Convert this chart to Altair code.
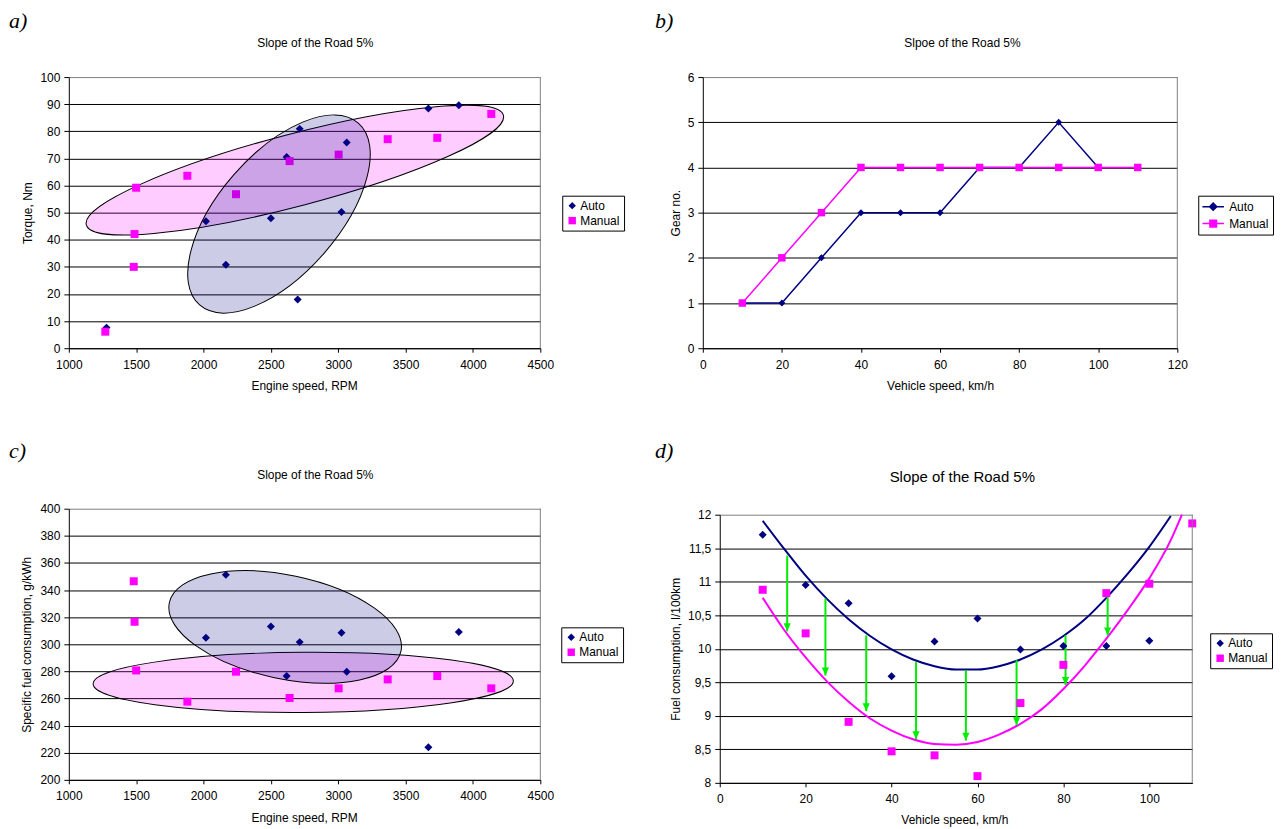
import altair as alt
import pandas as pd

# ------------------------------------------------------------------ data
series = ["Auto", "Manual"]

# a) torque vs engine speed
a_auto_rpm = [1280, 2018, 2166, 2500, 2617, 2699, 2714, 3024, 3063, 3669, 3895]
a_auto_torque = [7.6, 46.8, 30.8, 47.9, 70.5, 18.0, 80.9, 50.2, 75.9, 88.4, 89.6]
a_man_rpm = [1271, 1482, 1488, 1500, 1880, 2241, 2639, 3003, 3367, 3735, 4136]
a_man_torque = [6.1, 30.0, 42.1, 59.2, 63.6, 56.8, 69.0, 71.4, 77.1, 77.6, 86.4]
a_cluster_rpm = [2678, 2560]          # Manual cluster, Auto cluster (ellipse centres)
a_cluster_torque = [65.7, 49.5]

# b) gear number vs vehicle speed
b_auto_speed = [10, 20, 30, 40, 50, 60, 70, 80, 90, 100]
b_auto_gear = [1, 1, 2, 3, 3, 3, 4, 4, 5, 4]
b_man_speed = [10, 20, 30, 40, 50, 60, 70, 80, 90, 100, 110]
b_man_gear = [1, 2, 3, 4, 4, 4, 4, 4, 4, 4, 4]

# c) specific fuel consumption vs engine speed
c_auto_rpm = [2018, 2166, 2500, 2617, 2714, 3024, 3063, 3669, 3895]
c_auto_sfc = [304.8, 351.2, 313.1, 276.6, 301.6, 308.5, 279.8, 224.0, 309.0]
c_man_rpm = [1482, 1488, 1500, 1880, 2241, 2639, 3003, 3367, 3735, 4136]
c_man_sfc = [346.5, 316.6, 280.7, 257.7, 279.8, 260.4, 267.5, 274.1, 276.6, 267.5]
c_cluster_rpm = [2740, 2606]
c_cluster_sfc = [271.9, 312.8]

# d) fuel consumption vs vehicle speed
d_auto_speed = [10, 20, 30, 40, 50, 60, 70, 80, 90, 100]
d_auto_fc = [11.70, 10.95, 10.68, 9.59, 10.11, 10.45, 9.99, 10.04, 10.04, 10.12]
d_man_speed = [10, 20, 30, 40, 50, 60, 70, 80, 90, 100, 110]
d_man_fc = [10.88, 10.23, 8.91, 8.47, 8.41, 8.10, 9.19, 9.76, 10.83, 10.97, 11.87]
d_auto_trend_speed = [10, 15, 20, 25, 30, 35, 40, 45, 50, 55, 60, 65, 70, 75, 80, 85, 90, 95, 100, 105]
d_auto_trend_fc = [11.91, 11.49, 11.09, 10.74, 10.44, 10.19, 9.99, 9.84, 9.74, 9.69, 9.69, 9.74,
                   9.84, 9.99, 10.19, 10.44, 10.76, 11.12, 11.52, 11.98]
d_man_trend_speed = [10, 15, 20, 25, 30, 35, 40, 45, 50, 55, 60, 65, 70, 75, 80, 85, 90, 95, 100, 105, 107.6]
d_man_trend_fc = [10.76, 10.28, 9.87, 9.51, 9.21, 8.96, 8.78, 8.65, 8.58, 8.57, 8.61, 8.72,
                  8.88, 9.10, 9.40, 9.75, 10.15, 10.58, 11.05, 11.62, 12.0]
d_arrow_speed = [15.7, 24.6, 34.1, 45.7, 57.3, 69.1, 80.5, 90.3]
d_arrow_from = [11.39, 10.75, 10.20, 9.80, 9.68, 9.83, 10.20, 10.79]
d_arrow_to = [10.26, 9.60, 9.07, 8.65, 8.63, 8.86, 9.46, 10.20]

# tick values
a_x_ticks = [1000, 1500, 2000, 2500, 3000, 3500, 4000, 4500]
a_y_ticks = [0, 10, 20, 30, 40, 50, 60, 70, 80, 90, 100]
b_x_ticks = [0, 20, 40, 60, 80, 100, 120]
b_y_ticks = [0, 1, 2, 3, 4, 5, 6]
c_y_ticks = [200, 220, 240, 260, 280, 300, 320, 340, 360, 380, 400]
d_x_ticks = [0, 20, 40, 60, 80, 100]
d_y_ticks = [8, 8.5, 9, 9.5, 10, 10.5, 11, 11.5, 12]

# ------------------------------------------------------------------ style
FONT = "Liberation Sans"
SERIF = "Liberation Serif"
NAVY, MAG, GREEN, BORDER = "#000080", "#FF00FF", "#00EE00", "#808080"

color_scale = alt.Scale(domain=series, range=[NAVY, MAG])
shape_scale = alt.Scale(domain=series, range=["diamond", "square"])
AUTO_LEG = "M-1.8,0L1.8,0M0,-0.6L0.6,0L0,0.6L-0.6,0Z"
MAN_LEG = "M-1.8,0L1.8,0M-0.55,-0.55L0.55,-0.55L0.55,0.55L-0.55,0.55Z"
HEAD = "M0,0L-0.45,-1L0.45,-1Z"


def df_xy(xs, ys, name=None):
    d = pd.DataFrame({"x": xs, "y": ys})
    if name:
        d["series"] = name
    return d


def mk_legend(lx, ly, **extra):
    kw = dict(title=None, orient="none", legendX=lx, legendY=ly, strokeColor="black",
              fillColor="white", padding=4, labelFont=FONT, labelFontSize=12,
              labelColor="black", symbolSize=55, rowPadding=3, labelOffset=2,
              symbolStrokeWidth=0, symbolOpacity=1)
    kw.update(extra)
    return alt.Legend(**kw)


def x_axis(values, title, tx, ty, **extra):
    kw = dict(values=values, tickCount=30, format="d", title=title, grid=False,
              domainColor="black", tickColor="black", tickSize=4, labelFont=FONT,
              labelFontSize=12, labelColor="black", labelPadding=7, labelFlush=False,
              labelOverlap=False, titleFont=FONT, titleFontSize=12,
              titleFontWeight="normal", titleColor="black", titleX=tx, titleY=ty,
              titleAlign="center", titleBaseline="alphabetic")
    kw.update(extra)
    return alt.Axis(**kw)


def y_axis(values, title, tx, ty, top, **extra):
    kw = dict(values=values, tickCount=30, title=title, grid=True,
              gridColor={"condition": {"test": f"datum.value === {top}", "value": BORDER},
                         "value": "black"},
              gridWidth=1, gridOpacity=1, domainColor="black", tickColor="black",
              tickSize=5, labelFont=FONT, labelFontSize=12, labelColor="black",
              labelPadding=4, labelFlush=False, labelOverlap=False,
              titleFont=FONT, titleFontSize=12, titleFontWeight="normal",
              titleColor="black", titleAngle=270, titleX=tx, titleY=ty,
              titleAlign="center", titleBaseline="alphabetic")
    kw.update(extra)
    return alt.Axis(**kw)


def text(s, x, y, size=12, font=FONT, style="normal", align="center"):
    return alt.Chart(pd.DataFrame({"t": [s]})).mark_text(
        align=align, baseline="alphabetic", font=font, fontSize=size,
        fontStyle=style, color="black").encode(
        text="t:N", x=alt.value(x), y=alt.value(y))


def ellipse(cx, cy, xs, ys, ratio, size, angle, fill):
    path = f"M-1,0A1,{ratio} 0 1,0 1,0A1,{ratio} 0 1,0 -1,0Z"
    return alt.Chart(df_xy([cx], [cy])).mark_point(
        shape=path, size=size, angle=angle, filled=True, fill=fill, fillOpacity=0.2,
        stroke="black", strokeWidth=1, opacity=1).encode(
        x=alt.X("x:Q", scale=xs), y=alt.Y("y:Q", scale=ys))


def right_border(xdom, ydom, xs, ys):
    d = pd.DataFrame({"x": [xdom[1]], "y": [ydom[0]], "y2": [ydom[1]]})
    return alt.Chart(d).mark_rule(color=BORDER, strokeWidth=1).encode(
        x=alt.X("x:Q", scale=xs), y=alt.Y("y:Q", scale=ys), y2="y2:Q")


def scatter_panel(auto_x, auto_y, man_x, man_y, cl_x, cl_y, ydom, yticks, ytitle,
                  ytx, title_y, label, label_y, leg, ell, xty):
    xdom = [1000, 4500]
    xs = alt.Scale(domain=xdom, nice=False, zero=False)
    ys = alt.Scale(domain=ydom, nice=False, zero=False)
    pts = pd.concat([df_xy(auto_x, auto_y, "Auto"), df_xy(man_x, man_y, "Manual")])
    points = alt.Chart(pts).mark_point(filled=True, opacity=1, size=64).encode(
        x=alt.X("x:Q", scale=xs, axis=x_axis(a_x_ticks, "Engine speed, RPM", 236, xty)),
        y=alt.Y("y:Q", scale=ys,
                axis=y_axis(yticks, ytitle, ytx, 136, ydom[1], format="d")),
        color=alt.Color("series:N", scale=color_scale, legend=leg),
        shape=alt.Shape("series:N", scale=shape_scale, legend=leg),
    )
    (pr, psize, pang), (br, bsize, bang) = ell
    pink = ellipse(cl_x[0], cl_y[0], xs, ys, pr, psize, pang, MAG)
    blue = ellipse(cl_x[1], cl_y[1], xs, ys, br, bsize, bang, NAVY)
    return alt.layer(
        pink, points, blue, right_border(xdom, ydom, xs, ys),
        text("Slope of the Road 5%", 247.3, title_y),
        text(label, -60, label_y, size=22, font=SERIF, style="italic", align="left"),
    ).properties(width=473, height=272)


# ------------------------------------------------------------------ a)
panel_a = scatter_panel(
    a_auto_rpm, a_auto_torque, a_man_rpm, a_man_torque, a_cluster_rpm, a_cluster_torque,
    [0, 100], a_y_ticks, "Torque, Nm", -37.3, -30, "a)", -49,
    mk_legend(495, 119),
    ((0.1674, 187143, 345.3), (0.4955, 58661, 311.1)), 41.5)

# ------------------------------------------------------------------ c)
panel_c = scatter_panel(
    c_auto_rpm, c_auto_sfc, c_man_rpm, c_man_sfc, c_cluster_rpm, c_cluster_sfc,
    [200, 400], c_y_ticks, "Specific fuel consumption, g/kWh", -38.3, -29.7, "c)", -51.3,
    mk_legend(494, 119),
    ((0.1433, 177747, 359.6), (0.438, 56359, 11.8)), 42)

# ------------------------------------------------------------------ b)
bx_dom, by_dom = [0, 120], [0, 6]
bxs = alt.Scale(domain=bx_dom, nice=False, zero=False)
bys = alt.Scale(domain=by_dom, nice=False, zero=False)
b_auto = df_xy(b_auto_speed, b_auto_gear)
b_man = df_xy(b_man_speed, b_man_gear)
b_leg = mk_legend(497, 119, symbolSize=144, symbolStrokeWidth=1.5, symbolOffset=4,
                  labelOffset=9)
b_auto_line = alt.Chart(b_auto).mark_line(color=NAVY, strokeWidth=1.5).encode(
    x=alt.X("x:Q", scale=bxs, axis=x_axis(b_x_ticks, "Vehicle speed, km/h", 238, 41.3)),
    y=alt.Y("y:Q", scale=bys,
            axis=y_axis(b_y_ticks, "Gear no.", -23.6, 136, 6, format="d")))
b_auto_pts = alt.Chart(b_auto).mark_point(shape="diamond", filled=True, color=NAVY,
                                          size=49, opacity=1).encode(
    x=alt.X("x:Q", scale=bxs), y=alt.Y("y:Q", scale=bys))
b_man_line = alt.Chart(b_man).mark_line(color=MAG, strokeWidth=1.5).encode(
    x=alt.X("x:Q", scale=bxs), y=alt.Y("y:Q", scale=bys))
b_man_pts = alt.Chart(b_man).mark_point(shape="square", filled=True, color=MAG,
                                        size=56, opacity=1).encode(
    x=alt.X("x:Q", scale=bxs), y=alt.Y("y:Q", scale=bys))
b_legend_layer = alt.Chart(pd.DataFrame({"series": series})).transform_filter(
    "false").mark_point(filled=True, opacity=1).encode(
    fill=alt.Fill("series:N", scale=color_scale, legend=b_leg),
    stroke=alt.Stroke("series:N", scale=color_scale, legend=b_leg),
    shape=alt.Shape("series:N", scale=alt.Scale(domain=series, range=[AUTO_LEG, MAN_LEG]),
                    legend=b_leg))
panel_b = alt.layer(
    b_auto_line, b_auto_pts, b_man_line, b_man_pts, b_legend_layer,
    right_border(bx_dom, by_dom, bxs, bys),
    text("Slpoe of the Road 5%", 260.5, -30),
    text("b)", -48, -49, size=22, font=SERIF, style="italic", align="left"),
).properties(width=476, height=272)

# ------------------------------------------------------------------ d)
dx_dom, dy_dom = [0, 110], [8, 12]
dxs = alt.Scale(domain=dx_dom, range=[17, 491], nice=False, zero=False)
dys = alt.Scale(domain=dy_dom, range=[275, 6], nice=False, zero=False)
d_pts = pd.concat([df_xy(d_auto_speed, d_auto_fc, "Auto"), df_xy(d_man_speed, d_man_fc, "Manual")])
d_arrows = pd.DataFrame({"x": d_arrow_speed, "y": d_arrow_from, "y_end": d_arrow_to})
d_leg = mk_legend(509, 125)
d_auto_curve = alt.Chart(df_xy(d_auto_trend_speed, d_auto_trend_fc)).mark_line(
    color=NAVY, strokeWidth=2, interpolate="monotone").encode(
    x=alt.X("x:Q", scale=dxs), y=alt.Y("y:Q", scale=dys))
d_man_curve = alt.Chart(df_xy(d_man_trend_speed, d_man_trend_fc)).mark_line(
    color=MAG, strokeWidth=2, interpolate="monotone").encode(
    x=alt.X("x:Q", scale=dxs), y=alt.Y("y:Q", scale=dys))
d_shafts = alt.Chart(d_arrows).mark_rule(color=GREEN, strokeWidth=2).encode(
    x=alt.X("x:Q", scale=dxs), y=alt.Y("y:Q", scale=dys), y2="y_end:Q")
d_heads = alt.Chart(d_arrows).mark_point(shape=HEAD, size=256, filled=True, color=GREEN,
                                         opacity=1).encode(
    x=alt.X("x:Q", scale=dxs), y=alt.Y("y_end:Q", scale=dys))
d_points = alt.Chart(d_pts).mark_point(filled=True, opacity=1, size=64).encode(
    x=alt.X("x:Q", scale=dxs, axis=x_axis(d_x_ticks, "Vehicle speed, km/h", 252.3, 41)),
    y=alt.Y("y:Q", scale=dys,
            axis=y_axis(d_y_ticks, "Fuel consumption, l/100km", -40.6, 140.5, 12,
                        offset=-17,
                        labelExpr="replace(toString(datum.value), '.', ',')")),
    color=alt.Color("series:N", scale=color_scale, legend=d_leg),
    shape=alt.Shape("series:N", scale=shape_scale, legend=d_leg),
)
panel_d = alt.layer(
    d_auto_curve, d_man_curve, d_shafts, d_heads, d_points,
    right_border(dx_dom, dy_dom, dxs, dys),
    text("Slope of the Road 5%", 260.3, -26.5, size=15),
    text("d)", -48, -51.3, size=22, font=SERIF, style="italic", align="left"),
).properties(width=491, height=275)

# ------------------------------------------------------------------ layout
chart = alt.concat(
    panel_a, panel_b, panel_c, panel_d, columns=2, align="each",
    spacing={"row": 161, "column": 163}, bounds="flush",
).resolve_scale(
    color="independent", shape="independent", fill="independent", stroke="independent"
).resolve_legend(
    color="independent", shape="independent", fill="independent", stroke="independent"
).properties(padding=0).configure_view(stroke="transparent")

chart.save("out.html", embed_options={"renderer": "svg", "actions": False})
